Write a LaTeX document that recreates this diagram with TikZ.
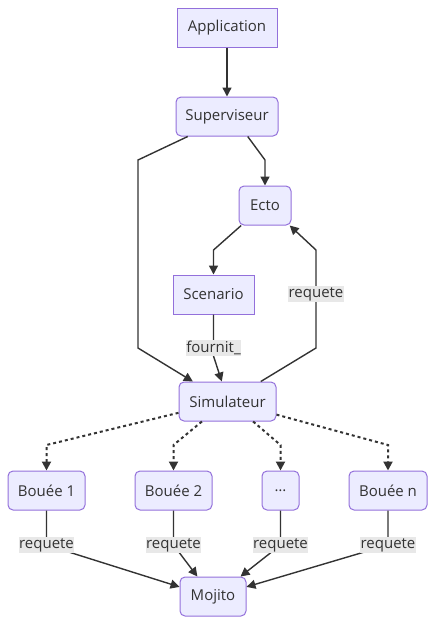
\documentclass[tikz,border=0pt]{standalone}
\usepackage{fontspec}
\setmainfont{Open Sans}
\usetikzlibrary{arrows.meta}
\definecolor{boxfill}{HTML}{ECECFF}
\definecolor{boxline}{HTML}{9370DB}
\definecolor{inktext}{HTML}{333333}
\definecolor{lblfill}{HTML}{E8E8E8}

\begin{document}
\begin{tikzpicture}[x=1pt, y=-1pt,
  box/.style={draw=boxline, fill=boxfill, text=inktext, line width=1pt,
              rounded corners=5pt, minimum height=39pt, inner xsep=0pt,
              font=\fontsize{15}{18}\selectfont},
  sqbox/.style={box, sharp corners},
  lbl/.style={fill=lblfill, text=inktext, inner xsep=0.5pt, inner ysep=1pt,
              font=\fontsize{15}{18}\selectfont},
  arr/.style={-{Triangle[length=9pt, width=9pt]}, line width=1.4pt, draw=inktext},
  dotarr/.style={arr, line width=2pt, dash pattern=on 3pt off 3pt}
]
\useasboundingbox (0,0) rectangle (435,625);
% nodes
\node[sqbox, minimum width=100pt] (app) at (227,27.5) {Application};
\node[box, minimum width=102pt] (sup) at (227,116.5) {Superviseur};
\node[box, minimum width=52pt] (ecto) at (265,205.5) {Ecto};
\node[sqbox, minimum width=81pt] (scen) at (213.5,294.5) {Scenario};
\node[box, minimum width=97pt] (sim) at (227.5,401.5) {Simulateur};
\node[box, minimum width=77pt] (b1) at (46.5,490.5) {Bouée 1};
\node[box, minimum width=77pt] (b2) at (173.5,490.5) {Bouée 2};
\node[box, minimum width=37pt] (bdots) at (280.5,490.5) {…};
\node[box, minimum width=78pt] (bn) at (388,490.5) {Bouée n};
\node[box, minimum width=66pt] (mojito) at (213,596.5) {Mojito};
% edges
\draw[arr] (app) -- (sup);
\draw[arr] (sup.316) -- (265,160) -- (ecto.north);
\draw[arr] (sup.207) -- (138,160) -- (138,348) -- (sim.150);
\draw[arr] (ecto.220) -- (213.5,250) -- (scen.north);
\draw[arr] (scen.south) -- node[lbl, pos=0.8] {fournit\_} (213.5,356) -- (sim.106);
\draw[arr] (sim.31) -- (316,348) -- node[lbl, pos=0.55] {requete} (316,250) -- (ecto.321);
% buoys
\draw[dotarr] (sim.193) -- (46.5,445) -- (b1.north);
\draw[dotarr] (sim.218) -- (173.5,445) -- (b2.north);
\draw[dotarr] (sim.322) -- (280.5,445) -- (bdots.north);
\draw[dotarr] (sim.345) -- (388,445) -- (bn.north);
\draw[arr] (b1.south) -- (46.5,545) node[lbl] {requete} -- (mojito.164);
\draw[arr] (b2.south) -- (173.5,545) node[lbl] {requete} -- (mojito.128);
\draw[arr] (bdots.south) -- (280.5,545) node[lbl] {requete} -- (mojito.36);
\draw[arr] (bn.south) -- (388,545) node[lbl] {requete} -- (mojito.16);
\end{tikzpicture}
\end{document}
